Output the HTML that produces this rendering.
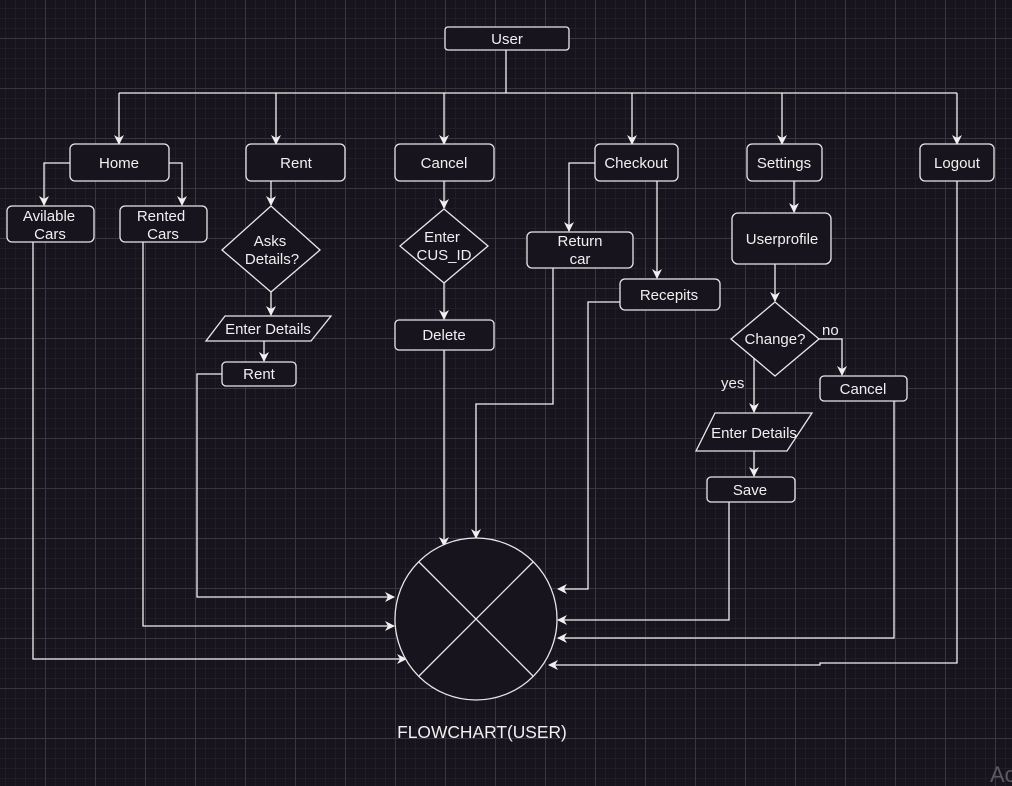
<!DOCTYPE html>
<html><head><meta charset="utf-8"><style>
html,body{margin:0;padding:0;background:#18141d;}
svg{display:block;}
text{font-family:"Liberation Sans",Arial,sans-serif;font-size:15px;fill:#f0f0f0;}
</style></head><body>
<svg width="1012" height="786" viewBox="0 0 1012 786" xmlns="http://www.w3.org/2000/svg">
<defs>
<pattern id="minor" width="10" height="10" patternUnits="userSpaceOnUse" x="5" y="8">
<path d="M0 0H10M0 0V10" stroke="#2a262f" stroke-width="1" fill="none"/>
</pattern>
<pattern id="major" width="50" height="50" patternUnits="userSpaceOnUse" x="45" y="38">
<path d="M0 0.5H50M0.5 0V50" stroke="#3a363f" stroke-width="1" fill="none"/>
</pattern>
<marker id="a" markerWidth="10" markerHeight="10" refX="9" refY="5" orient="auto" markerUnits="userSpaceOnUse">
<path d="M0,0 L10,5 L0,10 L3,5 Z" fill="#f0f0f0"/>
</marker>
</defs>
<rect width="1012" height="786" fill="#18141d"/>
<rect width="1012" height="786" fill="url(#minor)"/>
<rect width="1012" height="786" fill="url(#major)"/>

<g stroke="#f0f0f0" stroke-width="1.3" fill="none">
<path d="M506 50V93"/>
<path d="M119 93H957"/>
<path d="M119 93V144" marker-end="url(#a)"/>
<path d="M276 93V144" marker-end="url(#a)"/>
<path d="M444 93V144" marker-end="url(#a)"/>
<path d="M632 93V144" marker-end="url(#a)"/>
<path d="M782 93V144" marker-end="url(#a)"/>
<path d="M957 93V144" marker-end="url(#a)"/>
<path d="M70 163H44V205" marker-end="url(#a)"/>
<path d="M169 163H182V205" marker-end="url(#a)"/>
<path d="M271 181V205" marker-end="url(#a)"/>
<path d="M271 292V315" marker-end="url(#a)"/>
<path d="M264 341V361" marker-end="url(#a)"/>
<path d="M444 181V208" marker-end="url(#a)"/>
<path d="M444 283V319" marker-end="url(#a)"/>
<path d="M595 163H569V231" marker-end="url(#a)"/>
<path d="M657 181V278" marker-end="url(#a)"/>
<path d="M794 181V212" marker-end="url(#a)"/>
<path d="M775 264V301" marker-end="url(#a)"/>
<path d="M819 339H842V375" marker-end="url(#a)"/>
<path d="M754 357V412" marker-end="url(#a)"/>
<path d="M754 451V476" marker-end="url(#a)"/>
<path d="M33 242V659H406" marker-end="url(#a)"/>
<path d="M143 242V626H394" marker-end="url(#a)"/>
<path d="M222 374H197V597H394" marker-end="url(#a)"/>
<path d="M444 350V546" marker-end="url(#a)"/>
<path d="M553 268V404H476V538" marker-end="url(#a)"/>
<path d="M620 302H588V589H558" marker-end="url(#a)"/>
<path d="M729 502V620H558" marker-end="url(#a)"/>
<path d="M894 401V638H558" marker-end="url(#a)"/>
<path d="M957 181V663H820V665H549" marker-end="url(#a)"/>
</g>

<g stroke="#e8e8e8" stroke-width="1.3" fill="#18141d">
<rect x="445" y="27" width="124" height="23" rx="3"/>
<rect x="70" y="144" width="99" height="37" rx="5"/>
<rect x="246" y="144" width="99" height="37" rx="5"/>
<rect x="395" y="144" width="99" height="37" rx="5"/>
<rect x="595" y="144" width="83" height="37" rx="5"/>
<rect x="747" y="144" width="75" height="37" rx="5"/>
<rect x="920" y="144" width="74" height="37" rx="5"/>
<rect x="7" y="206" width="87" height="36" rx="5"/>
<rect x="120" y="206" width="87" height="36" rx="5"/>
<polygon points="271,206 320,250 271,292 222,250"/>
<polygon points="225,316 331,316 311,341 206,341"/>
<rect x="222" y="362" width="74" height="24" rx="4"/>
<polygon points="444,209 488,246 444,283 400,246"/>
<rect x="395" y="320" width="99" height="30" rx="4"/>
<rect x="527" y="232" width="106" height="36" rx="5"/>
<rect x="620" y="279" width="100" height="31" rx="5"/>
<rect x="732" y="213" width="99" height="51" rx="6"/>
<polygon points="775,302 819,339 775,376 731,339"/>
<rect x="820" y="376" width="87" height="25" rx="4"/>
<polygon points="715,413 812,413 787,451 696,451"/>
<rect x="707" y="477" width="88" height="25" rx="4"/>
<circle cx="476" cy="619" r="81"/>
<path d="M419 562L533 676M533 562L419 676" fill="none"/>
</g>

<g text-anchor="middle">
<text x="507" y="44">User</text>
<text x="119" y="168">Home</text>
<text x="296" y="168">Rent</text>
<text x="444" y="168">Cancel</text>
<text x="636" y="168">Checkout</text>
<text x="784" y="168">Settings</text>
<text x="957" y="168">Logout</text>
<text x="49" y="221">Avilable</text>
<text x="50" y="239">Cars</text>
<text x="161" y="221">Rented</text>
<text x="163" y="239">Cars</text>
<text x="270" y="246">Asks</text>
<text x="272" y="264">Details?</text>
<text x="268" y="334">Enter Details</text>
<text x="259" y="379">Rent</text>
<text x="442" y="242">Enter</text>
<text x="444" y="260">CUS_ID</text>
<text x="444" y="340">Delete</text>
<text x="580" y="246">Return</text>
<text x="580" y="264">car</text>
<text x="669" y="300">Recepits</text>
<text x="782" y="244">Userprofile</text>
<text x="775" y="344">Change?</text>
<text x="863" y="394">Cancel</text>
<text x="754" y="438">Enter Details</text>
<text x="750" y="495">Save</text>
<text x="482" y="738" style="font-size:17.4px">FLOWCHART(USER)</text>
</g>
<text x="822" y="335">no</text>
<text x="721" y="388">yes</text>
<text x="990" y="782" style="font-size:22px;fill:#5a5a5e">Ac</text>
</svg>
</body></html>
